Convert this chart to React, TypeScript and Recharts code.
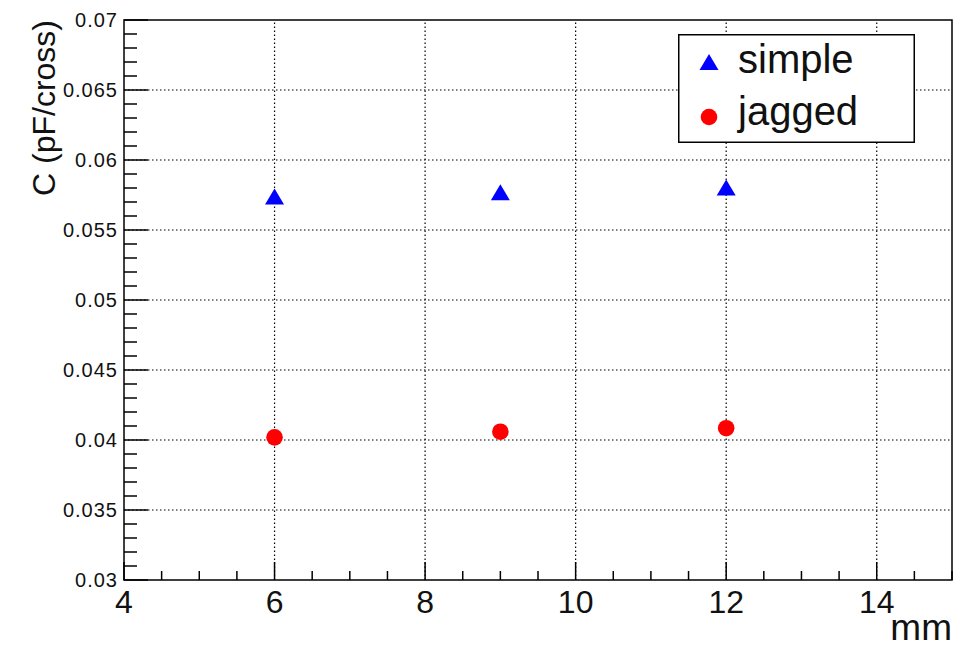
import { Legend, ReferenceArea, ReferenceLine, Scatter, ScatterChart, XAxis, YAxis } from "recharts";

// strip positions (mm) and measured capacitance per cross (pF)
const positions = [6, 9, 12];
const simpleC = [0.05739, 0.05769, 0.05804];
const jaggedC = [0.04019, 0.04059, 0.04084];
const seriesNames = ["simple", "jagged"];

const xMajor = [4, 6, 8, 10, 12, 14];
const xTicks = [4, 4.5, 5, 5.5, 6, 6.5, 7, 7.5, 8, 8.5, 9, 9.5, 10, 10.5, 11, 11.5, 12, 12.5, 13, 13.5, 14, 14.5, 15];
const yMajor = [0.03, 0.035, 0.04, 0.045, 0.05, 0.055, 0.06, 0.065, 0.07];
const yTicks = [
  0.03, 0.031, 0.032, 0.033, 0.034, 0.035, 0.036, 0.037, 0.038, 0.039,
  0.04, 0.041, 0.042, 0.043, 0.044, 0.045, 0.046, 0.047, 0.048, 0.049,
  0.05, 0.051, 0.052, 0.053, 0.054, 0.055, 0.056, 0.057, 0.058, 0.059,
  0.06, 0.061, 0.062, 0.063, 0.064, 0.065, 0.066, 0.067, 0.068, 0.069, 0.07,
];

const FONT = "'Liberation Sans', Arial, Helvetica, sans-serif";
const INK = "#111";

const simpleData = positions.map((x, i) => ({ x, y: simpleC[i] }));
const jaggedData = positions.map((x, i) => ({ x, y: jaggedC[i] }));

function Triangle({ cx, cy, fill }: any) {
  return <path d={`M${cx},${cy - 8} L${cx + 9.5},${cy + 8} L${cx - 9.5},${cy + 8} Z`} fill={fill} />;
}

function Dot({ cx, cy, fill }: any) {
  return <circle cx={cx} cy={cy} r={8.3} fill={fill} />;
}

function XTick({ x, y, payload }: any) {
  const major = xMajor.includes(payload.value);
  return (
    <g>
      <line x1={x} x2={x} y1={y} y2={y - (major ? 18 : 9)} stroke="#000" strokeWidth={1.5} />
      {major && (
        <text x={x} y={y + 33} textAnchor="middle" fontSize={32} fontFamily={FONT} fill={INK}>
          {payload.value}
        </text>
      )}
    </g>
  );
}

function YTick({ x, y, payload }: any) {
  const major = yMajor.includes(payload.value);
  return (
    <g>
      <line x1={x} x2={x + (major ? 24 : 13)} y1={y} y2={y} stroke="#000" strokeWidth={1.5} />
      {major && (
        <text x={x - 6} y={y} dy="0.36em" textAnchor="end" fontSize={20} letterSpacing={1} fontFamily={FONT} fill={INK}>
          {String(payload.value)}
        </text>
      )}
    </g>
  );
}

function LegendBox({ payload }: any) {
  const rows = [...(payload ?? [])].sort(
    (a: any, b: any) => seriesNames.indexOf(a.value) - seriesNames.indexOf(b.value)
  );
  return (
    <svg width={237} height={109} style={{ display: "block" }}>
      <rect x={0.75} y={0.75} width={235.5} height={107.5} fill="#fff" stroke="#000" strokeWidth={1.5} />
      {rows.map((r: any, i: number) => {
        const cy = i === 0 ? 28 : 83;
        return (
          <g key={r.value}>
            {r.value === "simple" ? <Triangle cx={31} cy={cy} fill={r.color} /> : <Dot cx={31} cy={cy} fill={r.color} />}
            <text x={60} y={cy + (i === 0 ? 11 : 8)} fontSize={40} fontFamily={FONT} fill={INK}>
              {r.value}
            </text>
          </g>
        );
      })}
    </svg>
  );
}

export default function App() {
  return (
    <div style={{ position: "absolute", left: 0, top: 0, background: "#fff", fontFamily: FONT }}>
      <ScatterChart width={959} height={647} margin={{ top: 20, right: 7, left: 0, bottom: 0 }}>
        <XAxis
          type="number"
          dataKey="x"
          domain={[4, 15]}
          ticks={xTicks}
          interval={0}
          height={67}
          axisLine={false}
          tickLine={false}
          tickSize={0}
          tickMargin={0}
          tick={<XTick />}
          label={{
            content: ({ viewBox }: any) => (
              <text x={viewBox.x + viewBox.width} y={640} textAnchor="end" fontSize={37} fontFamily={FONT} fill={INK}>
                mm
              </text>
            ),
          }}
        />
        <YAxis
          type="number"
          dataKey="y"
          domain={[0.03, 0.07]}
          ticks={yTicks}
          interval={0}
          width={124}
          axisLine={false}
          tickLine={false}
          tickSize={0}
          tickMargin={0}
          tick={<YTick />}
          label={{
            content: ({ viewBox }: any) => (
              <text
                x={55}
                y={viewBox.y}
                transform={`rotate(-90 55 ${viewBox.y})`}
                textAnchor="end"
                fontSize={32}
                fontFamily={FONT}
                fill={INK}
              >
                C (pF/cross)
              </text>
            ),
          }}
        />
        {xMajor
          .filter((v) => v > 4)
          .map((v) => (
            <ReferenceLine key={`gx${v}`} x={v} stroke="#000" strokeWidth={1.2} strokeDasharray="1.5 2.5" />
          ))}
        {yMajor
          .filter((v) => v > 0.03 && v < 0.07)
          .map((v) => (
            <ReferenceLine key={`gy${v}`} y={v} stroke="#000" strokeWidth={1.2} strokeDasharray="1.5 2.5" />
          ))}
        <ReferenceArea x1={4} x2={15} y1={0.03} y2={0.07} fill="none" stroke="#000" strokeWidth={1.5} />
        <Scatter name="simple" data={simpleData} fill="#0000ff" shape={<Triangle />} isAnimationActive={false} />
        <Scatter name="jagged" data={jaggedData} fill="#ff0000" shape={<Dot />} isAnimationActive={false} />
        <Legend
          layout="vertical"
          align="center"
          verticalAlign="middle"
          content={<LegendBox />}
          wrapperStyle={{ position: "absolute", left: 678, top: 34, width: 237, height: 109 }}
        />
      </ScatterChart>
    </div>
  );
}
